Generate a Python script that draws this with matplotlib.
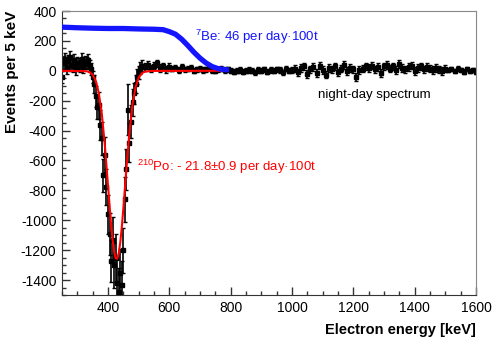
"""Night-day spectrum with 7Be and 210Po components."""

import matplotlib
matplotlib.use("Agg")
import matplotlib.pyplot as plt
import numpy as np
from matplotlib.ticker import MultipleLocator

plt.rcParams.update({
    "font.family": "Liberation Sans",
    "font.size": 10,
    "axes.unicode_minus": False,
    "mathtext.fontset": "custom",
    "mathtext.rm": "Liberation Sans",
    "mathtext.default": "regular",
})

# --- night-day spectrum (black points) ---
E_LEFT = np.arange(250, 351, 5)
V_LEFT = [-40, 50, 80, 20, 65, 95, 40, 30, 70, 15, 55, 45, 30, 80, 25, 60, 50, 75, 35, 10, -40]
ERR_LEFT = 40

E_DIP = np.arange(355, 511, 5)
V_DIP = [-90, -170, -240, -230, -360, -450, -700, -560, -780, -960,
         -1090, -1270, -1130, -1300, -1250, -1420, -1480, -1350, -1430, -1200,
         -860, -660, -260, -480, -340, -210, -150, -90, -40, -10,
         20, 35]
ERR_DIP = [60, 70, 80, 90, 100, 110, 110, 120, 120, 130,
           140, 140, 150, 150, 160, 160, 160, 160, 160, 150,
           150, 140, 170, 130, 110, 90, 70, 60, 50, 45,
           40, 35]

E_FLAT = np.arange(520, 1601, 10)
V_FLAT = [25, 40, 15, 35, 50, 20, 30, 10, 25,
          15, 20, 5, 25, 10, 15, 20, 0, 10, 15, 5, 10, 20, 5, 0, 10, 15, 5, 10, 0,
          -5, 0, 5, -5, 0, 5, 0, -10, 5, 0, 10, -5, 5, 0, 10, 5, -10, 15, 0, 5,
          15, -10, 20, 30, -20, 10, 25, -15, 35, 5,
          -25, 20, 10, 30, -10, 15, 40, 0, 20, 10,
          -40, 5, 15, 30, 20, 35, 10, 25, -15, 30,
          40, 15, 30, 5, 45, 20, 10, 25, 35, 0,
          20, 30, 10, 25, 15, 5, 20, 10, 0, 15,
          5, 10, 0, 15, 5, -5, 10, 0, 5, -10]
ERR_FLAT_SEG = [25, 18, 25, 14]
LEN_FLAT_SEG = [9, 40, 50, 10]

# --- 7Be spectrum (blue) ---
E_BE = [250, 300, 350, 400, 450, 500, 550, 580, 600, 620, 640, 660, 680,
        700, 720, 740, 760, 780, 795]
V_BE = [292, 288, 285, 283, 283, 280, 278, 275, 262, 245, 212, 170, 125,
        85, 52, 28, 14, 8, 6]

# --- 210Po fit (red) ---
E_PO = [250, 330, 340, 350, 360, 370, 380, 390, 400, 410, 415, 420, 425, 430,
        435, 440, 445, 450, 460, 470, 480, 490, 500, 510, 520, 540, 780]
V_PO = [0, -3, -9, -26, -66, -148, -290, -502, -764, -1024, -1131, -1209, -1253,
        -1257, -1221, -1149, -1048, -925, -656, -409, -225, -109, -46, -17, -6, -1, 0]

fig = plt.figure(figsize=(4.99, 3.44), dpi=100)
ax = fig.add_axes([0.1242, 0.1424, 0.8297, 0.8256])

energy = np.concatenate([E_LEFT, E_DIP, E_FLAT])
values = np.concatenate([V_LEFT, V_DIP, V_FLAT])
errors = np.concatenate([np.full(len(E_LEFT), ERR_LEFT), ERR_DIP,
                         np.repeat(ERR_FLAT_SEG, LEN_FLAT_SEG)])

ax.errorbar(energy, values, yerr=errors, fmt="s", color="black", ms=2.6,
            elinewidth=1.2, capsize=1.2, capthick=1.0, zorder=2)
ax.plot(E_PO, V_PO, color="#ff0000", lw=1.5, zorder=3)
ax.plot(E_BE, V_BE, color="#1414ff", lw=3.8, solid_capstyle="butt", zorder=4)

ax.text(684, 225, r"$^{7}$Be: 46 per day·100t", color="#1414ff",
        fontsize=9.5, va="center", ha="left")
ax.text(1085, -162, "night-day spectrum", color="black",
        fontsize=9.5, va="center", ha="left")
ax.text(494, -640, r"$^{210}$Po: - 21.8±0.9 per day·100t", color="#ff0000",
        fontsize=9.5, va="center", ha="left")

ax.set_xlim(250, 1600)
ax.set_ylim(-1500, 400)
ax.xaxis.set_major_locator(MultipleLocator(200))
ax.xaxis.set_minor_locator(MultipleLocator(50))
ax.yaxis.set_major_locator(MultipleLocator(200))
ax.yaxis.set_minor_locator(MultipleLocator(50))
ax.tick_params(which="both", direction="in", color="#333333", width=1)
ax.tick_params(which="major", length=5.5, labelsize=10, pad=4)
ax.tick_params(which="minor", length=2.8)

for side in ["top", "right"]:
    ax.spines[side].set_color("#888888")
for side in ["left", "bottom"]:
    ax.spines[side].set_color("#333333")

ax.set_xlabel("Electron energy [keV]", loc="right", fontweight="bold", fontsize=10.5)
ax.set_ylabel("Events per 5 keV", loc="top", fontweight="bold", fontsize=11)
ax.yaxis.set_label_coords(-0.104, 1.0)
ax.xaxis.set_label_coords(1.0, -0.1)

fig.savefig("out.png", dpi=100)
